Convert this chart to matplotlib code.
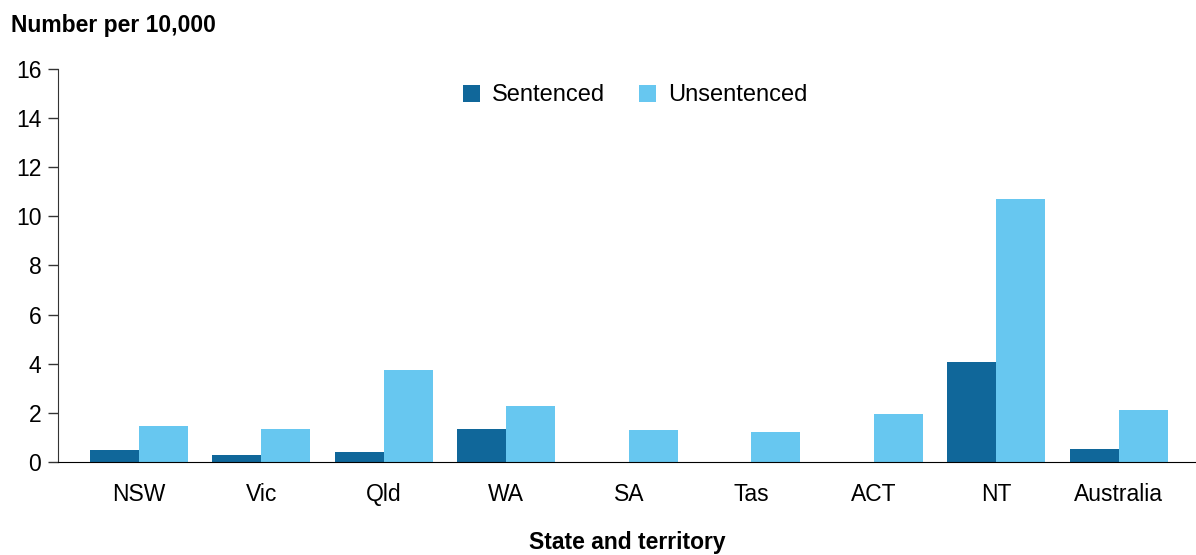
import numpy as np
import matplotlib.pyplot as plt

plt.rcParams['font.family'] = ['Liberation Sans', 'DejaVu Sans']

states = ['NSW', 'Vic', 'Qld', 'WA', 'SA', 'Tas', 'ACT', 'NT', 'Australia']
sentenced = [0.48, 0.27, 0.40, 1.35, 0, 0, 0, 4.07, 0.53]
unsentenced = [1.46, 1.35, 3.75, 2.28, 1.30, 1.22, 1.95, 10.71, 2.12]

dark = '#10679a'
light = '#67c7f0'

fig = plt.figure(figsize=(11.96, 5.55), dpi=100)
ax = fig.add_axes([0.0485, 0.1676, 0.9515, 0.7081])

x = np.arange(len(states))
w = 0.4
ax.bar(x - w / 2, sentenced, w, color=dark, label='Sentenced')
ax.bar(x + w / 2, unsentenced, w, color=light, label='Unsentenced')

ax.set_ylim(0, 16)
ax.set_yticks(range(0, 17, 2))
ax.set_xlim(-0.66, 8.63)
ax.set_xticks(x)
ax.set_xticklabels(states)

ax.spines['top'].set_visible(False)
ax.spines['right'].set_visible(False)
ax.spines['left'].set_color('#333333')
ax.spines['bottom'].set_color('black')
ax.tick_params(axis='y', length=7, width=1, color='#333333', labelsize=16.5, pad=5)
ax.tick_params(axis='x', length=0, labelsize=16.5, pad=15)

ax.set_xlabel('State and territory', fontsize=16.5, fontweight='bold', labelpad=18)
fig.text(0.009, 0.954, 'Number per 10,000', fontsize=16.5, fontweight='bold', va='center')

ax.legend(loc='upper center', bbox_to_anchor=(0.507, 1.015), ncol=2, frameon=False,
          fontsize=17, handlelength=0.72, handleheight=0.72, columnspacing=1.45,
          handletextpad=0.5)

plt.savefig('out.png')
